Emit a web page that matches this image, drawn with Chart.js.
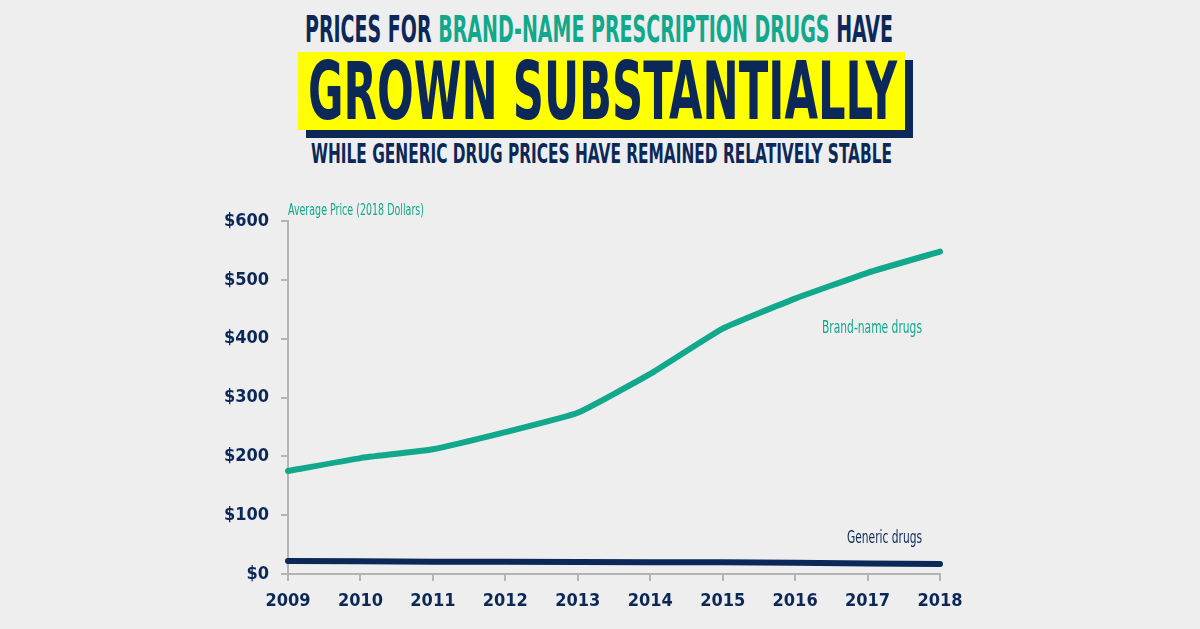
<!DOCTYPE html>
<html>
<head>
<meta charset="utf-8">
<script src="https://cdn.jsdelivr.net/npm/chart.js@4"></script>
<style>
  html, body { margin: 0; padding: 0; background: #eeeeee; }
  #wrap { position: relative; width: 1200px; height: 629px; overflow: hidden; }
  .hd { position: absolute; white-space: nowrap; font-family: "Liberation Sans Narrow", "DejaVu Sans Condensed", sans-serif;
        font-weight: bold; line-height: 1; color: #0b2858; transform-origin: 0 0; }
  .teal { color: #12a88c; }
  #box { position: absolute; left: 298px; top: 52px; width: 607px; height: 78px; background: #ffff00;
         box-shadow: 8px 8px 0 #0b2858; }
  canvas { position: absolute; left: 0; top: 0; }
</style>
</head>
<body>
<div id="wrap">
  <div id="box"></div>
  <div class="hd" id="l1" data-x="305" data-w="588" style="top:10px;font-size:38px">PRICES FOR <span class="teal">BRAND-NAME PRESCRIPTION DRUGS</span> HAVE</div>
  <div class="hd" id="l2" data-x="308" data-w="589" style="top:51px;font-size:81px">GROWN SUBSTANTIALLY</div>
  <div class="hd" id="l3" data-x="311" data-w="581" style="top:140px;font-size:27px">WHILE GENERIC DRUG PRICES HAVE REMAINED RELATIVELY STABLE</div>
  <canvas id="grafica" width="1200" height="629"></canvas>
</div>
<script>
// fit the headline lines to their widths
document.querySelectorAll(".hd").forEach((el) => {
  const w = el.getBoundingClientRect().width;
  el.style.left = el.dataset.x + "px";
  el.style.transform = "scaleX(" + (+el.dataset.w / w) + ")";
});

const anios = ["2009", "2010", "2011", "2012", "2013", "2014", "2015", "2016", "2017", "2018"];
const marca = [175, 197, 212, 241, 274, 340, 417, 468, 512, 548];
const genericos = [22, 21.5, 21, 21, 20.5, 20, 20, 19, 18, 17];
const ticksY = [0, 100, 200, 300, 400, 500, 600];

const azul = "#0b2858";
const verde = "#12a88c";
const gris = "#b4b4b4";
const fuenteNarrow = '"Liberation Sans Narrow", "DejaVu Sans Condensed", sans-serif';

// draws text squeezed to a given width (the original uses a condensed face)
function textoAngosto(ctx, texto, x, y, ancho, alinear) {
  const w = ctx.measureText(texto).width;
  const k = Math.min(1, ancho / w);
  ctx.save();
  ctx.translate(alinear === "right" ? x - ancho : x, y);
  ctx.scale(k, 1);
  ctx.textAlign = "left";
  ctx.fillText(texto, 0, 0);
  ctx.restore();
}

const etiquetas = {
  id: "etiquetas",
  afterDraw(chart) {
    const { ctx, chartArea, scales } = chart;
    ctx.save();
    ctx.textBaseline = "alphabetic";
    ctx.fillStyle = verde;
    ctx.font = "15px " + fuenteNarrow;
    textoAngosto(ctx, "Average Price (2018 Dollars)", chartArea.left, chartArea.top - 6, 136, "left");

    ctx.font = "18px " + fuenteNarrow;
    textoAngosto(ctx, "Brand-name drugs", chartArea.right - 18, scales.y.getPixelForValue(410), 100, "right");
    ctx.fillStyle = azul;
    textoAngosto(ctx, "Generic drugs", chartArea.right - 18, scales.y.getPixelForValue(53), 75, "right");
    ctx.restore();
  },
};

new Chart(document.getElementById("grafica").getContext("2d"), {
  type: "line",
  data: {
    labels: anios,
    datasets: [
      {
        label: "Brand-name drugs",
        data: marca,
        borderColor: verde,
        borderWidth: 6,
        pointRadius: 0,
        tension: 0.12,
        borderCapStyle: "round",
        borderJoinStyle: "round",
      },
      {
        label: "Generic drugs",
        data: genericos,
        borderColor: azul,
        borderWidth: 6,
        pointRadius: 0,
        borderCapStyle: "round",
      },
    ],
  },
  options: {
    responsive: false,
    animation: false,
    layout: { padding: { top: 221, right: 260, left: 0, bottom: 0 } },
    plugins: {
      legend: { display: false },
      tooltip: { enabled: false },
    },
    scales: {
      x: {
        grid: { drawOnChartArea: false, color: gris, tickLength: 7, lineWidth: 2 },
        border: { color: gris, width: 2 },
        ticks: {
          color: azul,
          padding: 10,
          maxRotation: 0,
          font: { family: fuenteNarrow, size: 18, weight: "bold" },
        },
        afterFit: (s) => { s.height = 55; },
      },
      y: {
        min: 0,
        max: 600,
        afterBuildTicks: (s) => { s.ticks = ticksY.map((v) => ({ value: v })); },
        grid: { drawOnChartArea: false, color: gris, tickLength: 7, lineWidth: 2 },
        border: { color: gris, width: 2 },
        ticks: {
          color: azul,
          padding: 12,
          callback: (v) => "$" + v,
          font: { family: fuenteNarrow, size: 18, weight: "bold" },
        },
        afterFit: (s) => { s.width = 288; },
      },
    },
  },
  plugins: [etiquetas],
});
</script>
</body>
</html>
